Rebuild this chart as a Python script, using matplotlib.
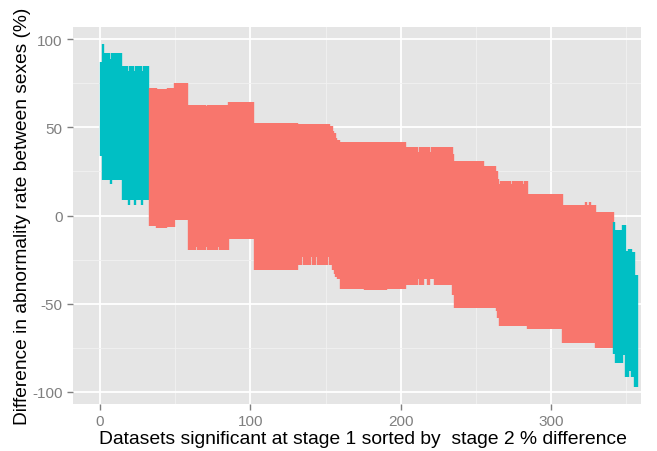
import numpy as np
import matplotlib
matplotlib.use("Agg")
import matplotlib.pyplot as plt

plt.rcParams['font.family'] = ['Liberation Sans', 'DejaVu Sans']
plt.rcParams['axes.unicode_minus'] = False

# runs of consecutive datasets sharing the same interval
run_len = [1, 1, 4, 1, 7, 4, 1, 3, 1, 4, 1, 4,
           5, 7, 5, 9, 5, 1, 6, 1, 7, 1, 6, 17,
           29, 3, 1, 5, 1, 2, 1, 7, 1, 2, 1, 1, 1, 2,
           16, 15, 13,
           8, 1, 3, 2, 2, 1, 2, 12,
           1, 20, 8, 1, 1, 1, 7, 1, 7, 1, 2,
           23, 15, 1, 2, 1, 3, 12,
           1, 5, 2, 2, 2, 2, 2]
run_lo = [34, 20, 20, 18, 20, 9, 6, 9, 6, 9, 6, 9,
          -6, -7, -6.5, -2.5, -19.5, -18, -19.5, -18, -19.5, -18, -19.5, -13.2,
          -31.2, -28.3, -23.5, -28.3, -23.5, -28.3, -23.5, -28.3, -23.5, -28.3, -31, -33, -35, -36,
          -42, -42.3, -41.8,
          -39.3, -36, -39.3, -36, -39.3, -36, -36, -39.3,
          -45, -52.5, -52.5, -54, -58, -62.5, -62.5, -62.5, -62.5, -62.5, -62.5,
          -64.2, -72.2, -72.2, -72.2, -72.2, -72.2, -75,
          -78.4, -84, -79.4, -91.6, -88.4, -91.6, -97.3]
run_hi = [87, 97.5, 92, 89, 92, 85, 82, 85, 82, 85, 82, 85,
          72.5, 72, 72.5, 75, 62.8, 62.8, 62.8, 62, 62.8, 62.8, 62.8, 64.3,
          52.6, 52, 52, 52, 52, 52, 52, 52, 52, 51, 48, 47, 44, 43,
          41.5, 42, 41.6,
          39.1, 36, 39.1, 39.1, 39.1, 36, 39.1, 39.1,
          35, 31, 28.3, 25, 21, 18, 19.8, 18, 19.8, 18, 19.8,
          12.3, 6.1, 7.5, 6.1, 7.5, 6.1, 1.9,
          -3.8, -8.5, -5.3, -20.4, -18.9, -20.8, -34]

lower = np.repeat(run_lo, run_len)
upper = np.repeat(run_hi, run_len)
idx = np.arange(1, len(lower) + 1)

# intervals that exclude zero are drawn in cyan
signif = (lower > 0) | (upper < 0)
colors = np.where(signif, '#00BFC4', '#F8766D')

fig = plt.figure(figsize=(6.57, 4.52), dpi=100)
ax = fig.add_axes([0.111, 0.104, 0.865, 0.834])
ax.set_facecolor('#E5E5E5')

ax.set_xlim(-18, 360)
ax.set_ylim(-107, 107)
ax.set_xticks([0, 100, 200, 300])
ax.set_xticks([50, 150, 250, 350], minor=True)
ax.set_yticks([-100, -50, 0, 50, 100])
ax.set_yticks([-75, -25, 25, 75], minor=True)
ax.grid(which='major', color='white', linewidth=1.3)
ax.grid(which='minor', color='#F2F2F2', linewidth=0.6)
ax.set_axisbelow(True)

ax.vlines(idx, lower, upper, colors=colors, linewidth=1.7)

for s in ax.spines.values():
    s.set_visible(False)
ax.tick_params(which='major', colors='#7F7F7F', labelsize=11, length=4, width=1)
ax.tick_params(which='minor', length=0)

ax.set_xlabel('Datasets significant at stage 1 sorted by  stage 2 % difference',
              fontsize=13.9)
ax.xaxis.set_label_coords(0.51, -0.068)
ax.set_ylabel('Difference in abnormality rate between sexes (%)', fontsize=13.8, labelpad=1)

fig.savefig('out.png', dpi=100)
